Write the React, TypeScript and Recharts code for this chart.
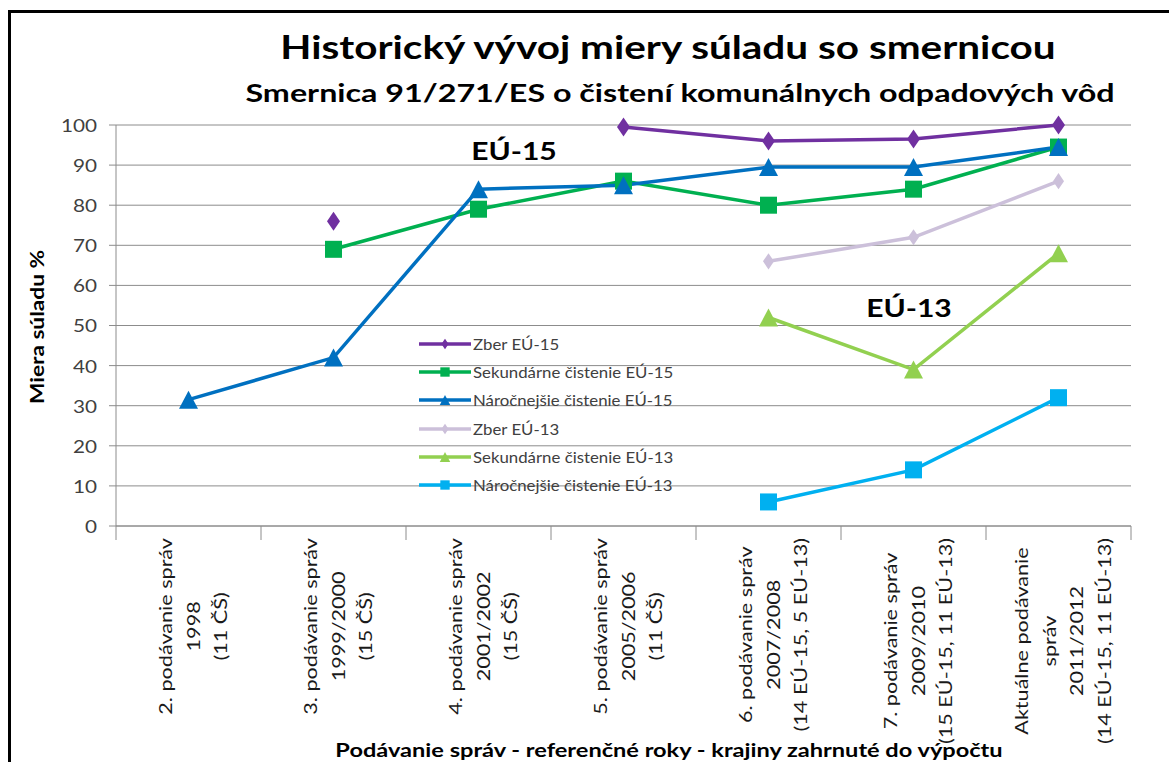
import React from 'react';
import { LineChart, Line, XAxis, YAxis, CartesianGrid, Legend } from 'recharts';

const categories = ['r2', 'r3', 'r4', 'r5', 'r6', 'r7', 'rA'];
const categoryLabels = [
  ['2. podávanie správ', '1998', '(11 ČŠ)'],
  ['3. podávanie správ', '1999/2000', '(15 ČŠ)'],
  ['4. podávanie správ', '2001/2002', '(15 ČŠ)'],
  ['5. podávanie správ', '2005/2006', '(11 ČŠ)'],
  ['6. podávanie správ', '2007/2008', '(14 EÚ-15, 5 EÚ-13)'],
  ['7. podávanie správ', '2009/2010', '(15 EÚ-15, 11 EÚ-13)'],
  ['Aktuálne podávanie', 'správ', '2011/2012', '(14 EÚ-15, 11 EÚ-13)'],
];

const zberEU15 = [null, 76, null, 99.5, 96, 96.5, 100];
const sekundarneEU15 = [null, 69, 79, 86, 80, 84, 94.5];
const narocnejsieEU15 = [31.5, 42, 84, 85, 89.5, 89.5, 94.5];
const zberEU13 = [null, null, null, null, 66, 72, 86];
const sekundarneEU13 = [null, null, null, null, 52, 39, 68];
const narocnejsieEU13 = [null, null, null, null, 6, 14, 32];

const yTicks = [0, 10, 20, 30, 40, 50, 60, 70, 80, 90, 100];

const series = [
  { key: 'zber15', name: 'Zber EÚ-15', color: '#7030A0', shape: 'diamond', values: zberEU15 },
  { key: 'sek15', name: 'Sekundárne čistenie EÚ-15', color: '#00B050', shape: 'square', values: sekundarneEU15 },
  { key: 'nar15', name: 'Náročnejšie čistenie EÚ-15', color: '#0070C0', shape: 'triangle', values: narocnejsieEU15 },
  { key: 'zber13', name: 'Zber EÚ-13', color: '#CCC0DA', shape: 'diamond', values: zberEU13 },
  { key: 'sek13', name: 'Sekundárne čistenie EÚ-13', color: '#92D050', shape: 'triangle', values: sekundarneEU13 },
  { key: 'nar13', name: 'Náročnejšie čistenie EÚ-13', color: '#00B0F0', shape: 'square', values: narocnejsieEU13 },
];

const data = categories.map((c, i) => {
  const row: Record<string, any> = { cat: c };
  series.forEach((s) => { row[s.key] = s.values[i]; });
  return row;
});

const W = 1169;
const H = 762;
const MARGIN = { top: 125, right: 38, left: 56, bottom: 16 };
const Y_WIDTH = 60;
const PLOT_W = W - MARGIN.left - MARGIN.right - Y_WIDTH;
const HALF_BAND = PLOT_W / categories.length / 2;
const GRID = '#8c8c8c';
const FONT = 'Lato, "Open Sans", sans-serif';
// the reference glyphs are wider than Lato's, so text is stretched a bit
const STRETCH = 1.2;
const TICK_SIZE = 18;

let canvasCtx: CanvasRenderingContext2D | null = null;
function textWidth(s: string, font: string) {
  if (!canvasCtx) canvasCtx = document.createElement('canvas').getContext('2d');
  if (!canvasCtx) return s.length * 8;
  canvasCtx.font = font;
  return canvasCtx.measureText(s).width;
}

function Marker({ shape, cx, cy, color, scale = 1 }: any) {
  if (shape === 'square') {
    const h = 8.5 * scale;
    return <rect x={cx - h} y={cy - h} width={h * 2} height={h * 2} fill={color} />;
  }
  if (shape === 'triangle') {
    const w = 9.5 * scale;
    const h = 9 * scale;
    return <polygon points={`${cx},${cy - h} ${cx + w},${cy + h} ${cx - w},${cy + h}`} fill={color} />;
  }
  const w = 6.5 * scale;
  const h = 9.5 * scale;
  return <polygon points={`${cx},${cy - h} ${cx + w},${cy} ${cx},${cy + h} ${cx - w},${cy}`} fill={color} />;
}

const dotRenderer = (shape: string, color: string, scale: number) => (p: any) => {
  const { cx, cy, index, value } = p;
  if (cx == null || cy == null || value == null) return <g key={index} />;
  return <g key={index}><Marker shape={shape} cx={cx} cy={cy} color={color} scale={scale} /></g>;
};

function XTick(props: any) {
  const { x, y, index } = props;
  const lines = categoryLabels[index] || [];
  const font = `${TICK_SIZE}px Lato`;
  const longest = Math.max(...lines.map((l) => textWidth(l, font))) * STRETCH;
  const n = lines.length;
  const cy = y + 12 + longest / 2;
  return (
    <g>
      <line x1={x - HALF_BAND} x2={x - HALF_BAND} y1={y} y2={y + 14} stroke={GRID} />
      {index === categories.length - 1 && (
        <line x1={x + HALF_BAND} x2={x + HALF_BAND} y1={y} y2={y + 14} stroke={GRID} />
      )}
      {lines.map((t, i) => (
        <text
          key={i}
          transform={`translate(${x + 4 + (i - (n - 1) / 2) * 27.5},${cy}) rotate(-90) scale(${STRETCH},1)`}
          textAnchor="middle"
          dominantBaseline="central"
          fontSize={TICK_SIZE}
          fontFamily={FONT}
          fill="#1a1a1a"
        >
          {t}
        </text>
      ))}
    </g>
  );
}

function YTick(props: any) {
  const { x, y, payload } = props;
  return (
    <text
      transform={`translate(${x},${y}) scale(1.15,1)`}
      textAnchor="end"
      dominantBaseline="central"
      fontSize={18}
      fontFamily={FONT}
      fill="#404040"
    >
      {payload.value}
    </text>
  );
}

function LegendContent() {
  return (
    <div style={{ display: 'flex', flexDirection: 'column', fontFamily: FONT }}>
      {series.map((s) => (
        <div key={s.key} style={{ height: 28.2, display: 'flex', alignItems: 'center' }}>
          <svg width={56} height={20}>
            <line x1={2} x2={54} y1={10} y2={10} stroke={s.color} strokeWidth={3.5} />
            <Marker shape={s.shape} cx={28} cy={10} color={s.color} scale={0.55} />
          </svg>
          <span style={{ fontSize: 15, color: '#404040', whiteSpace: 'nowrap', display: 'inline-block', transform: 'scaleX(1.12)', transformOrigin: 'left center' }}>
            {s.name}
          </span>
        </div>
      ))}
    </div>
  );
}

const centered = (k: number): React.CSSProperties => ({
  position: 'absolute',
  transform: `translate(-50%, -50%) scaleX(${k})`,
  whiteSpace: 'nowrap',
  fontWeight: 700,
  color: '#000',
  lineHeight: 1,
});

export default function App() {
  return (
    <div style={{ position: 'absolute', left: 0, top: 0, width: W, height: H, overflow: 'hidden', background: '#fff', fontFamily: FONT }}>
      <div style={{ position: 'absolute', left: 8, top: 10, width: W + 20, height: H + 20, borderLeft: '3px solid #000', borderTop: '3px solid #000' }} />
      <div style={{ ...centered(1.265), left: 668, top: 47, fontSize: 32 }}>
        Historický vývoj miery súladu so smernicou
      </div>
      <div style={{ ...centered(1.29), left: 680, top: 92, fontSize: 25 }}>
        Smernica 91/271/ES o čistení komunálnych odpadových vôd
      </div>
      <LineChart width={W} height={H} data={data} margin={MARGIN} style={{ position: 'absolute', left: 0, top: 0 }}>
        <CartesianGrid vertical={false} stroke={GRID} strokeWidth={1} />
        <XAxis
          dataKey="cat"
          interval={0}
          height={220}
          tickLine={false}
          tickSize={0}
          tickMargin={0}
          axisLine={{ stroke: GRID }}
          padding={{ left: HALF_BAND, right: HALF_BAND }}
          tick={<XTick />}
        />
        <YAxis
          width={Y_WIDTH}
          domain={[0, 100]}
          ticks={yTicks}
          interval={0}
          tickSize={7}
          tickMargin={12}
          tickLine={{ stroke: GRID }}
          axisLine={{ stroke: GRID }}
          tick={<YTick />}
        />
        <Legend
          layout="vertical"
          align="center"
          verticalAlign="middle"
          content={<LegendContent />}
          wrapperStyle={{ left: 417, top: 330, width: 290 }}
        />
        {series.map((s) => (
          <Line
            key={s.key}
            dataKey={s.key}
            name={s.name}
            stroke={s.color}
            strokeWidth={3.5}
            connectNulls={false}
            isAnimationActive={false}
            activeDot={false}
            dot={dotRenderer(s.shape, s.color, s.key === 'zber13' ? 0.85 : 1)}
          />
        ))}
      </LineChart>
      <div style={{ position: 'absolute', left: 37, top: 327, transform: 'translate(-50%, -50%) rotate(-90deg) scaleX(1.26)', whiteSpace: 'nowrap', fontSize: 18, fontWeight: 700, color: '#000', lineHeight: 1 }}>
        Miera súladu %
      </div>
      <div style={{ ...centered(1.24), left: 669, top: 749, fontSize: 19 }}>
        Podávanie správ - referenčné roky - krajiny zahrnuté do výpočtu
      </div>
      <div style={{ ...centered(1.2), left: 514, top: 150, fontSize: 25 }}>EÚ-15</div>
      <div style={{ ...centered(1.2), left: 909, top: 307, fontSize: 25 }}>EÚ-13</div>
    </div>
  );
}
